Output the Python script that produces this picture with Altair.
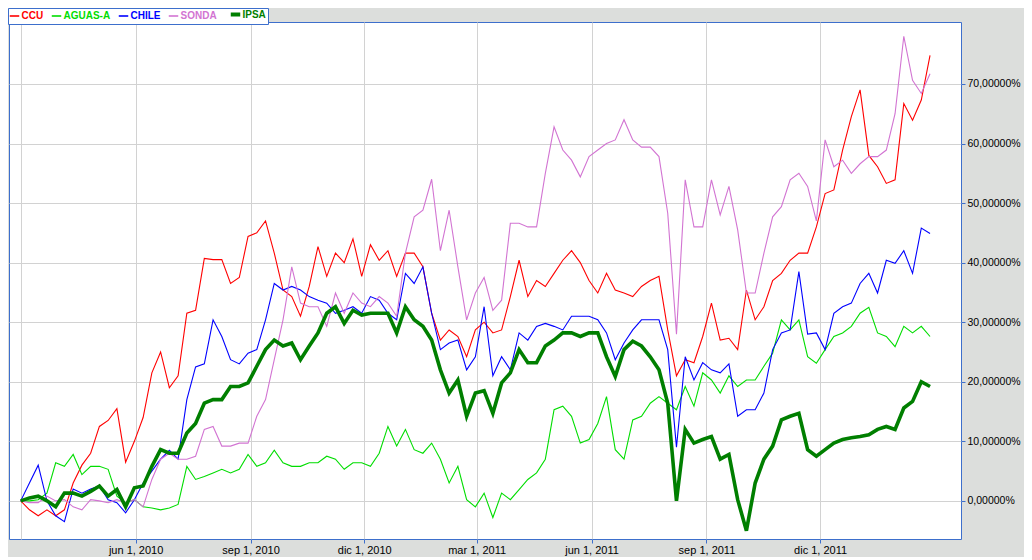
import altair as alt
import pandas as pd

# weekly sample dates (Mondays), Mar 1 2010 .. Feb 27 2012
dates = pd.date_range("2010-03-01", periods=105, freq="7D").strftime("%Y-%m-%d").tolist()

series_names = ["CCU", "AGUAS-A", "CHILE", "SONDA", "IPSA"]
series_colors = ["#ff0000", "#00dd00", "#0000ff", "#d274d2", "#007f00"]

ccu = [0, -1.5, -2.5, -1.5, -2.5, -1.5, 3, 6, 8, 12.5,
       13.5, 15.5, 6.5, 10, 14, 21.5, 25, 19, 21, 31.5,
       32, 40.7, 40.5, 40.5, 36.5, 37.5, 44.4, 45, 47, 41.6,
       35.4, 34.3, 31, 36, 42.7, 37.7, 41.6, 40, 44, 37.7,
       43, 40.4, 42, 37.7, 41.6, 41.6, 39.3, 31.5, 27, 28.7,
       27.6, 24.2, 28.7, 30, 28.2, 28.7, 34.3, 40.4, 34.3, 37,
       36, 38.2, 40.4, 42, 40, 37, 34.9, 38.2, 35.4, 34.9,
       34.3, 36, 37, 37.7, 28.7, 21, 23.7, 23.2, 27.6, 33.2,
       27, 27.3, 25.4, 35.4, 30.4, 32.6, 37, 38.2, 40.4, 41.6,
       41.6, 46, 51.6, 52.2, 58.9, 64.5, 69, 58, 56.1, 53.3,
       53.9, 66.7, 63.9, 67.3, 74.8]

aguas = [0, 0, 0.2, 1.3, 6.4, 5.8, 7.8, 4.4, 5.8, 5.8,
         5.3, 0.8, -0.3, 0.2, -1, -1.2, -1.5, -1.2, -0.6, 5.8,
         3.6, 4.1, 4.7, 5.3, 4.7, 5.3, 7.8, 5.8, 6.4, 8.5,
         6.4, 5.8, 5.8, 6.4, 6.4, 7.5, 7, 5.3, 6.4, 6.4,
         5.8, 8, 12.5, 9.2, 12, 8.6, 8, 9.7, 7, 3,
         5.8, 0.2, -1, 1.3, -2.8, 1.3, 0.2, 1.9, 3.6, 4.7,
         7, 15.3, 15.9, 14.2, 9.7, 10.3, 13, 17.5, 8.6, 7,
         13.6, 14.2, 16.4, 17.5, 16.4, 15.3, 19.2, 15.9, 21.5, 20.3,
         18.1, 21, 19.2, 20.3, 20.3, 22.6, 24.8, 30.4, 28.7, 30.4,
         24.2, 23.1, 25.4, 27.6, 28.2, 29.3, 31.5, 32.5, 28.2, 27.6,
         25.9, 29.3, 28.2, 29.3, 27.6]

chile = [0, 3, 6, 0, -2.5, -3.5, 2, 1.3, 2, 2.5,
         0.2, -0.3, -2, 0.2, 3, 5, 7, 8.5, 7, 17,
         22.5, 23, 30.4, 27.6, 23.7, 23, 24.8, 25.4, 30.4, 36.5,
         35.4, 36, 35.4, 34.3, 33.7, 33.2, 31.5, 32, 32.6, 31.5,
         34.3, 33.7, 31.5, 30.4, 38.2, 36.5, 39.3, 31.5, 25.4, 26.5,
         27, 22, 24.2, 32.6, 21, 24.2, 22, 28.2, 27, 29.3,
         29.8, 29.3, 28.7, 31, 31, 31, 30.4, 28.2, 23.7, 26.5,
         28.7, 30.4, 30.4, 30.4, 25.4, 9, 24.2, 20.3, 23.2, 22,
         21.5, 23, 14.2, 15.3, 15.3, 18.1, 25.4, 28.2, 28.7, 38.5,
         28, 28.2, 25.4, 31.5, 32.6, 33.2, 36.5, 38.2, 34.9, 40.4,
         39.9, 42, 38.2, 45.8, 44.9]

sonda = [0, -0.3, -0.3, 0.8, 0, 0.2, -1, -1.5, 0.2, 0,
         -0.3, 0.2, -0.3, 0.2, -1, 3.6, 7, 8, 7, 7,
         7.5, 12, 12.5, 9.2, 9.2, 9.7, 9.7, 14.2, 17, 23.7,
         30.4, 39.3, 33.2, 32.6, 32.6, 29.3, 34.9, 31.5, 34.9, 33.2,
         32.6, 34.3, 33.2, 31, 41.6, 47.7, 48.8, 54, 42, 48.8,
         39.3, 30.4, 34.9, 37.5, 32, 33.7, 46.6, 46.6, 46, 46,
         55, 62.8, 58.9, 57.2, 54.4, 57.8, 58.9, 60, 60.6, 64,
         60.6, 59.4, 59.4, 57.8, 48.3, 28, 53.9, 46, 46, 53.9,
         48, 52.8, 45.5, 34.9, 34.9, 41.6, 47.7, 49.4, 53.9, 55,
         52.8, 47, 60.6, 56.1, 57.2, 55, 56.6, 57.8, 57.8, 58.9,
         65, 78, 70.6, 68.4, 71.7]

ipsa = [0, 0.5, 0.8, 0, -1, 1.3, 1.3, 0.8, 1.6, 2.5,
        0.8, 1.9, -1, 2.2, 2.5, 5.8, 8.6, 8, 8, 11.4,
        13, 16.4, 17, 17, 19.2, 19.2, 19.8, 22.6, 25.4, 27,
        26, 26.5, 23.7, 26, 28.2, 31.5, 32.6, 29.8, 32, 31.2,
        31.5, 31.5, 31.5, 28.2, 32.6, 30.4, 29.3, 27, 22, 18.1,
        20.3, 14.2, 18.1, 18.5, 14.7, 19.8, 21.5, 25.4, 23.2, 23.2,
        26, 27, 28.2, 28.2, 27.6, 28.2, 28.2, 24.2, 20.9, 25.4,
        26.8, 26, 24.2, 22, 16.4, 0, 12, 9.7, 10.3, 10.8,
        7, 7.8, 0.2, -5, 3, 7, 9.2, 13.6, 14.2, 14.7,
        8.6, 7.5, 8.6, 9.7, 10.3, 10.6, 10.8, 11.1, 12, 12.5,
        12, 15.6, 16.7, 20, 19.2]

all_values = [ccu, aguas, chile, sonda, ipsa]
rows = []
for name, vals in zip(series_names, all_values):
    for d, v in zip(dates, vals):
        rows.append({"fecha": d, "serie": name, "valor": v})
df = pd.DataFrame(rows)

border = "#3d6fcc"
grid_color = "#d2d2d2"

label_color_expr = "".join(
    f"datum.label == '{n}' ? '{c}' : " for n, c in zip(series_names, series_colors)
) + "'black'"

legend = alt.Legend(
    orient="none", legendX=-1, legendY=-14, direction="horizontal", columns=5,
    title=None, fillColor="white", strokeColor=border, padding=1.5,
    symbolType="stroke", symbolSize=90,
    symbolStrokeWidth=alt.ExprRef("datum.label == 'IPSA' ? 4 : 1.6"),
    labelFont="Liberation Sans", labelFontSize=10, labelFontWeight="bold",
    labelColor=alt.ExprRef(label_color_expr), labelOffset=2, columnPadding=5,
)

tick_dates = [alt.DateTime(year=y, month=m, date=1, utc=True) for y, m in
              [(2010, 3), (2010, 6), (2010, 9), (2010, 12), (2011, 3),
               (2011, 6), (2011, 9), (2011, 12)]]

first_tick = "utcyear(datum.value) == 2010 && utcmonth(datum.value) == 2"
x_label_expr = (first_tick + " ? '' : "
                "['ene','feb','mar','abr','may','jun','jul','ago','sep','oct','nov','dic']"
                "[utcmonth(datum.value)] + ' ' + utcdate(datum.value) + ', ' + utcyear(datum.value)")

base = alt.Chart(df).encode(
    x=alt.X("fecha:T",
            scale=alt.Scale(type="utc", domain=[
                alt.DateTime(year=2010, month=2, date=19, hours=15, utc=True),
                alt.DateTime(year=2012, month=3, date=22, hours=19, utc=True)]),
            axis=alt.Axis(values=tick_dates, labelExpr=x_label_expr, title=None,
                          grid=True, gridColor=grid_color, domain=False,
                          tickColor=alt.ExprRef(first_tick + f" ? 'rgba(0,0,0,0)' : '{border}'"),
                          tickSize=4, labelPadding=1,
                          labelFont="Liberation Sans", labelFontSize=11,
                          labelColor="black", labelFlush=False, labelOverlap=False)),
    y=alt.Y("valor:Q",
            scale=alt.Scale(domain=[-6.4, 80.4], nice=False, zero=False),
            axis=alt.Axis(orient="right", values=[0, 10, 20, 30, 40, 50, 60, 70],
                          labelExpr="replace(format(datum.value, '.5f'), '.', ',') + '%'",
                          title=None, grid=True, gridColor=grid_color, domain=False,
                          tickColor=border, tickSize=4, labelPadding=2,
                          labelFont="Liberation Sans", labelFontSize=10.5,
                          labelColor="black")),
    color=alt.Color("serie:N", scale=alt.Scale(domain=series_names, range=series_colors),
                    legend=legend),
)

thin = base.transform_filter(alt.datum.serie != "IPSA").mark_line(strokeWidth=1.1)
thick = base.transform_filter(alt.datum.serie == "IPSA").mark_line(strokeWidth=3.6)

chart = alt.layer(thin, thick).properties(
    width=952, height=517,
    autosize=alt.AutoSizeParams(type="none"),
    padding={"left": 1, "top": 14, "right": 63, "bottom": 18},
    background="#dcdedc",
).configure_view(
    fill="white", stroke=border, strokeWidth=1,
)

chart.save("out.html", embed_options={"renderer": "svg", "actions": False})
